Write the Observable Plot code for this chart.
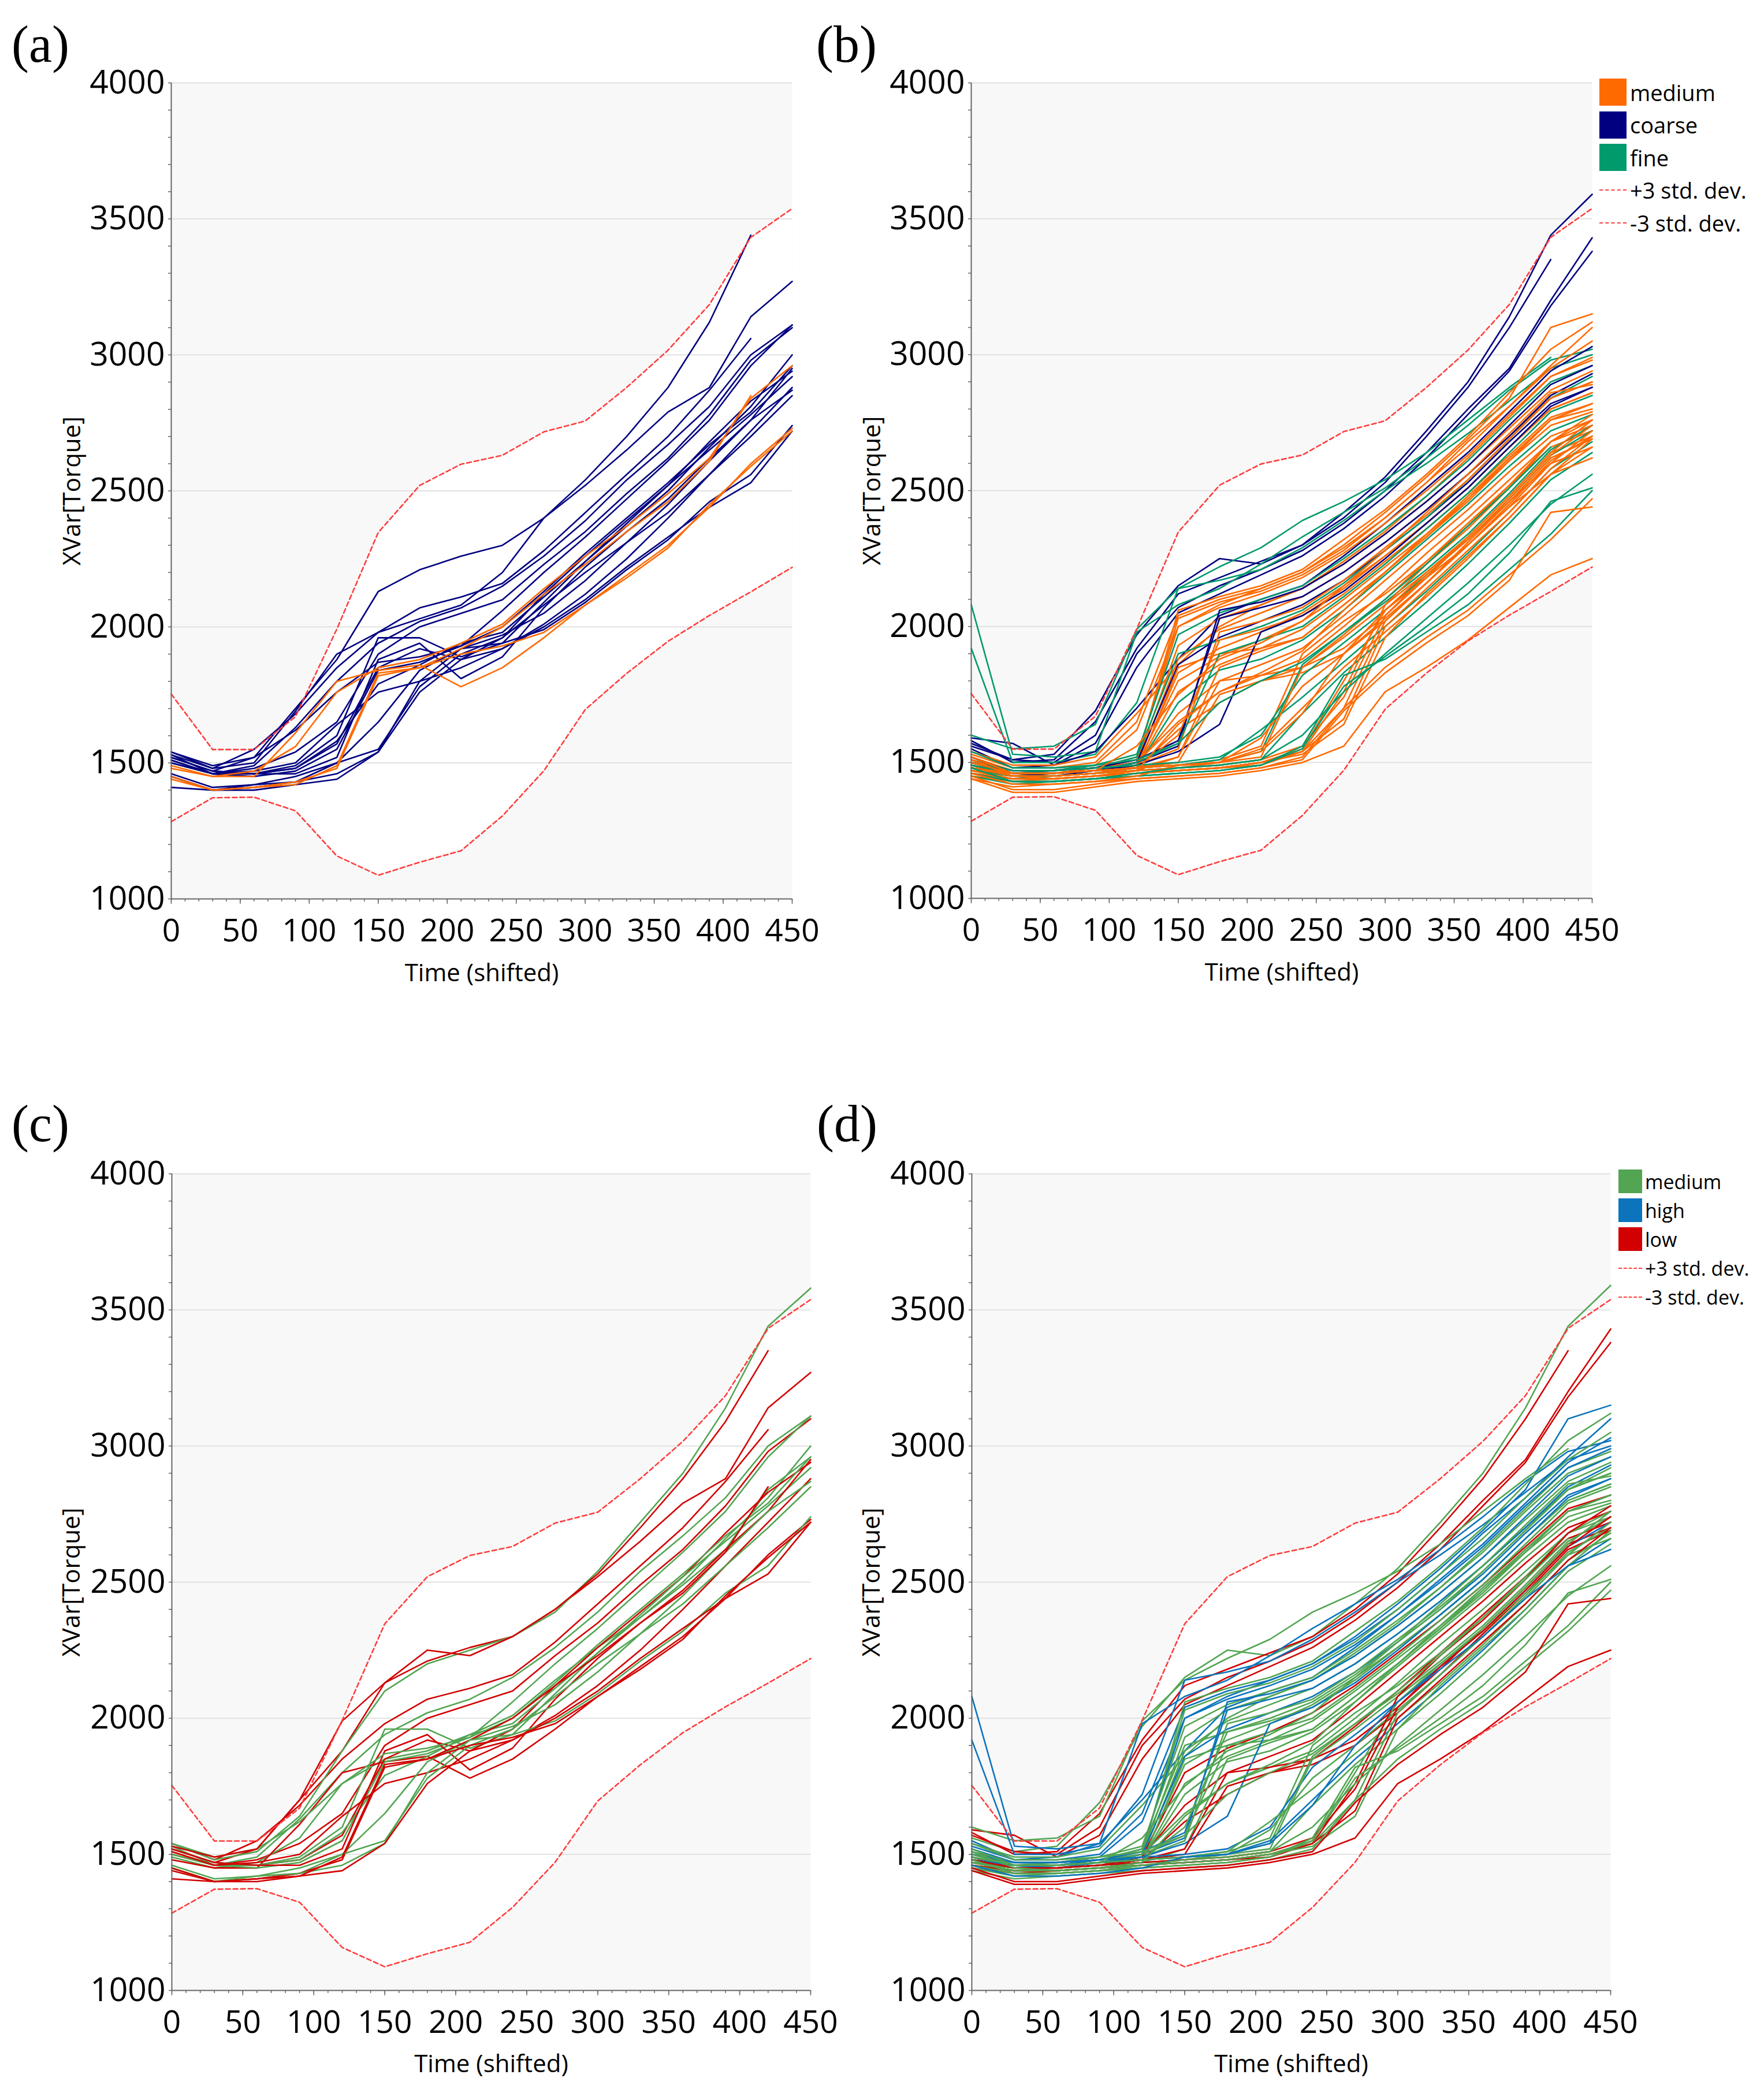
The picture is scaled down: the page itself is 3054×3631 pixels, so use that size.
<!DOCTYPE html>
<html><head><meta charset="utf-8">
<script src="https://cdn.jsdelivr.net/npm/d3@7"></script>
<script src="https://cdn.jsdelivr.net/npm/@observablehq/plot@0.6"></script>
<style>
html,body{margin:0;padding:0;background:#fff;}
#root{position:relative;width:3054px;height:3631px;background:#fff;overflow:hidden;font-family:"Open Sans",sans-serif;}
.panel{position:absolute;}
.plabel{position:absolute;font-family:"Liberation Serif","Times New Roman",serif;font-size:90px;line-height:90px;color:#000;}
.legend{position:absolute;font-family:"Open Sans",sans-serif;color:#000;}
.legend .row{position:absolute;left:0;display:flex;align-items:center;white-space:nowrap;}
.legend .sw{display:inline-block;flex:none;}
</style></head><body><div id="root"></div>
<script>
// ---------- DATA ----------
const times = [0,30,60,90,120,150,180,210,240,270,300,330,360,390,420,450];
const upperStd = [1753,1549,1549,1670,1992,2347,2520,2598,2631,2717,2757,2880,3017,3185,3432,3538];
const lowerStd = [1284,1372,1374,1324,1158,1087,1135,1177,1305,1471,1696,1829,1947,2042,2129,2219];

// panels (a) and (c): individual runs
const seriesA = [
  [1530,1480,1500,1690,1900,1980,2030,2080,2200,2400,2540,2700,2880,3120,3440,null],
  [1520,1470,1520,1700,1880,2130,2210,2260,2300,2400,2520,2650,2790,2880,3140,3270],
  [1540,1480,1550,1680,1850,1980,2070,2110,2160,2280,2420,2560,2700,2870,3060,null],
  [1510,1460,1490,1630,1800,1940,2020,2070,2150,2260,2390,2540,2670,2810,3000,3110],
  [1500,1460,1480,1540,1650,1900,2000,2050,2100,2230,2350,2490,2620,2780,2980,3100],
  [1490,1450,1470,1560,1760,1850,1880,1940,2010,2140,2260,2370,2490,2620,2840,2960],
  [1480,1450,1450,1610,1800,1840,1860,1780,1850,1960,2080,2190,2300,2440,2600,2730],
  [1520,1470,1460,1490,1600,1960,1960,1890,1940,2090,2240,2370,2500,2660,2810,3000],
  [1510,1460,1460,1480,1570,1850,1920,1880,1960,2120,2260,2390,2520,2680,2830,2940],
  [1530,1460,1450,1470,1550,1840,1870,1930,2000,2130,2270,2400,2530,2670,2790,2960],
  [1500,1460,1460,1480,1580,1790,1860,1940,1980,2110,2240,2380,2520,2650,2780,2920],
  [1520,1470,1460,1460,1520,1880,1940,1810,1890,2070,2220,2350,2470,2620,2760,2950],
  [1510,1460,1470,1500,1640,1760,1800,1850,1920,2010,2120,2250,2400,2560,2720,2880],
  [1450,1400,1410,1430,1500,1650,1840,1920,1970,2050,2170,2310,2450,2610,2760,2870],
  [1440,1400,1410,1430,1480,1820,1850,1920,2000,2120,2230,2350,2460,2610,2850,null],
  [1450,1400,1420,1450,1500,1550,1780,1900,1960,2080,2200,2310,2420,2560,2700,2850],
  [1460,1410,1420,1430,1460,1540,1800,1920,1940,1990,2090,2210,2320,2460,2560,2740],
  [1410,1400,1400,1420,1440,1540,1760,1880,1920,2000,2100,2220,2330,2440,2530,2720],
  [1450,1400,1410,1420,1490,1830,1850,1900,1930,1980,2080,2180,2290,2450,2590,2720],
  [1540,1490,1520,1620,1760,1870,1890,1930,2060,2200,2330,2470,2610,2760,2960,3110]
];
const groupA = ["coarse","coarse","coarse","coarse","coarse","medium","medium","coarse","coarse","coarse",
  "coarse","coarse","coarse","coarse","medium","coarse","coarse","coarse","medium","coarse"];
const groupC = [null,"low","low","medium","low","medium","low","medium","low","medium",
  "medium","low","low","medium","low","medium","medium","low","low","medium"];
const seriesCExtra = [
  [1540,1480,1510,1640,1880,2100,2200,2250,2300,2390,2540,2720,2900,3140,3440,3580],
  [1530,1490,1520,1700,1990,2130,2250,2230,2300,2400,2530,2700,2880,3090,3350,null]
];
const groupCExtra = ["medium","low"];

// panels (b) and (d): individual runs
const seriesB = [
  [1560,1510,1530,1690,1970,2150,2250,2230,2300,2420,2550,2720,2900,3140,3440,3590],
  [1580,1500,1510,1650,1920,2120,2180,2240,2300,2400,2530,2700,2880,3100,3350,null],
  [1570,1510,1500,1600,1900,2070,2150,2210,2280,2380,2500,2640,2800,2950,3200,3430],
  [1590,1570,1490,1570,1850,2050,2120,2190,2260,2360,2480,2620,2780,2940,3180,3380],
  [1600,1550,1560,1640,1990,2140,2220,2290,2390,2460,2540,2640,2760,2880,2990,null],
  [2080,1530,1520,1540,1980,2080,2140,2230,2330,2420,2510,2620,2740,2870,2980,3020],
  [1920,1500,1500,1530,1720,2140,2170,2210,2290,2390,2500,2600,2710,2830,2950,3000],
  [1550,1480,1490,1540,1700,1880,2040,2100,2150,2260,2380,2510,2640,2790,2940,3030],
  [1540,1490,1490,1520,1680,1860,2000,2080,2140,2240,2350,2480,2620,2770,2920,2980],
  [1530,1480,1480,1500,1650,2040,2100,2140,2200,2290,2400,2530,2680,2810,2960,3100],
  [1520,1470,1470,1490,1620,2000,2080,2140,2200,2300,2420,2550,2690,2840,3100,3150],
  [1500,1460,1460,1480,1500,2060,2110,2150,2210,2320,2430,2560,2700,2860,3020,3120],
  [1490,1460,1470,1480,1510,2030,2090,2130,2190,2280,2400,2530,2660,2810,2950,3050],
  [1480,1450,1460,1480,1520,2000,2070,2120,2180,2270,2380,2500,2630,2780,2920,2990],
  [1510,1470,1470,1490,1530,1970,2050,2100,2150,2250,2360,2480,2610,2760,2900,2960],
  [1470,1450,1460,1470,1500,1930,2030,2080,2140,2230,2340,2460,2590,2730,2870,2940],
  [1500,1460,1460,1470,1490,1880,1990,2050,2110,2200,2310,2430,2560,2700,2840,2900],
  [1520,1460,1450,1470,1500,1860,1960,2020,2080,2170,2280,2400,2530,2680,2820,2880],
  [1490,1450,1450,1460,1480,1830,1920,1980,2050,2150,2260,2380,2510,2660,2800,2860],
  [1480,1450,1450,1460,1490,1800,1890,1950,2020,2120,2240,2360,2490,2630,2770,2820],
  [1500,1460,1460,1470,1480,1760,1860,1920,1990,2100,2220,2340,2470,2610,2740,2790],
  [1470,1440,1450,1460,1480,1720,1840,1880,1950,2060,2190,2320,2450,2590,2720,2780],
  [1490,1450,1450,1460,1490,1680,1800,1860,1920,2040,2170,2300,2430,2570,2700,2760],
  [1510,1460,1460,1470,1500,1650,1760,1820,1880,2000,2130,2270,2400,2540,2680,2740],
  [1480,1450,1450,1460,1480,1620,1720,1800,1850,1970,2100,2240,2380,2520,2660,2720],
  [1460,1440,1440,1450,1470,1850,1900,1920,1960,2080,2200,2330,2470,2620,2760,2800],
  [1500,1460,1470,1480,1520,1900,1950,2000,2060,2160,2280,2400,2540,2690,2840,2920],
  [1490,1460,1460,1470,1500,1560,2060,2090,2140,2230,2340,2460,2590,2740,2890,2960],
  [1500,1470,1470,1480,1510,1580,2030,2070,2110,2200,2310,2430,2560,2700,2850,2930],
  [1480,1460,1460,1470,1490,1550,1980,2020,2070,2170,2290,2410,2540,2690,2840,2900],
  [1470,1450,1450,1460,1480,1600,1950,1990,2040,2140,2260,2380,2510,2660,2800,2860],
  [1490,1460,1460,1470,1500,1570,1900,1950,2000,2110,2230,2360,2490,2640,2790,2850],
  [1460,1440,1440,1450,1470,1520,1850,1910,1960,2080,2200,2330,2460,2610,2760,2820],
  [1500,1460,1460,1470,1490,1540,1640,1980,2040,2130,2250,2380,2510,2660,2810,2880],
  [1480,1450,1450,1460,1480,1520,1800,1820,1850,1920,2040,2180,2330,2480,2640,2700],
  [1470,1450,1450,1460,1480,1500,1750,1800,1830,1900,2020,2160,2310,2460,2620,2690],
  [1490,1460,1460,1470,1480,1490,1510,1560,1900,2020,2120,2240,2370,2520,2680,2760],
  [1480,1460,1460,1470,1480,1490,1500,1540,1860,1980,2090,2210,2340,2490,2650,2740],
  [1500,1470,1470,1480,1490,1500,1520,1600,1820,1940,2060,2190,2320,2470,2630,2720],
  [1470,1450,1450,1460,1470,1480,1500,1590,1780,1900,2030,2160,2300,2450,2610,2700],
  [1490,1460,1460,1470,1480,1490,1510,1620,1740,1870,2000,2130,2270,2420,2580,2680],
  [1480,1460,1460,1470,1480,1490,1500,1550,1700,1850,1980,2110,2250,2400,2560,2660],
  [1500,1460,1460,1470,1480,1490,1500,1520,1850,1960,2080,2200,2320,2460,2600,2660],
  [1470,1450,1450,1460,1470,1480,1490,1510,1680,1830,1960,2090,2230,2380,2540,2640],
  [1470,1440,1440,1450,1460,1470,1480,1500,1550,1800,2060,2200,2330,2480,2640,2760],
  [1460,1440,1440,1450,1460,1470,1480,1500,1540,1760,2080,2230,2360,2510,2680,2780],
  [1480,1450,1450,1460,1470,1480,1490,1510,1560,1740,2040,2190,2320,2470,2630,2740],
  [1450,1430,1430,1440,1460,1470,1480,1500,1540,1700,2020,2160,2300,2440,2600,2720],
  [1460,1430,1440,1450,1460,1470,1480,1490,1540,1660,2000,2140,2280,2420,2580,2700],
  [1470,1440,1440,1450,1460,1470,1480,1500,1530,1640,1960,2120,2260,2400,2560,2690],
  [1450,1420,1430,1440,1450,1460,1470,1490,1550,1780,1890,2000,2120,2270,2460,2510],
  [1460,1430,1430,1440,1450,1460,1470,1490,1560,1820,1880,1980,2080,2210,2340,2500],
  [1440,1410,1420,1430,1440,1450,1460,1480,1520,1700,1850,1960,2060,2190,2320,2470],
  [1450,1400,1400,1420,1440,1450,1460,1480,1510,1690,1830,1940,2040,2170,2420,2440],
  [1440,1390,1390,1410,1430,1440,1450,1470,1500,1560,1760,1850,1950,2070,2190,2250],
  [1540,1480,1480,1490,1510,1570,1720,1800,1870,1980,2100,2230,2370,2510,2660,null],
  [1520,1460,1460,1470,1560,1750,1880,1940,2020,2150,2280,2420,2560,2710,2860,2890],
  [1510,1450,1440,1450,1470,1640,1760,1830,1910,2060,2200,2340,2480,2620,2760,2820],
  [1460,1420,1420,1430,1450,1490,1500,1540,1680,1900,2060,2180,2300,2440,2560,2620],
  [1480,1430,1430,1440,1460,1480,1490,1510,1600,1760,1900,2030,2160,2300,2450,2560]
];
const groupB = ["coarse","coarse","coarse","coarse","fine","fine","fine","coarse","medium","medium",
  "medium","medium","medium","medium","fine","medium","medium","coarse","medium","medium",
  "medium","fine","medium","medium","medium","medium","fine","coarse","coarse","medium",
  "medium","fine","medium","coarse","medium","medium","medium","fine","fine","medium",
  "fine","medium","medium","fine","medium","medium","medium","medium","medium","medium",
  "fine","fine","medium","medium","medium","fine","medium","medium","medium","fine"];
const groupD = ["medium","low","low","low","medium","high","high","high","medium","high",
  "high","medium","medium","high","medium","medium","medium","high","medium","low",
  "medium","medium","low","medium","low","medium","medium","high","high","medium",
  "medium","medium","medium","high","low","low","medium","medium","high","medium",
  "medium","high","medium","medium","medium","low","low","medium","low","medium",
  "medium","medium","medium","low","low","medium","medium","medium","high","medium"];

const sizeNames = ["medium","coarse","fine"];
const sizeColors = ["#FF6A00","#000080","#009A6C"];
const moistNames = ["medium","high","low"];
const moistColors = ["#52A552","#0B74BC","#D20000"];
const stdNames = ["+3 std. dev.","-3 std. dev."];

// ---------- DRAWING ----------
const root = document.getElementById("root");

function makePanel(o) {
  const rows = [];
  o.series.forEach((vals, i) => {
    const g = o.groups[i];
    if (g == null) return;
    vals.forEach((v, j) => { if (v != null) rows.push({id: i, t: times[j], v, g}); });
  });
  if (o.order) rows.sort((a, b) => o.order.indexOf(a.g) - o.order.indexOf(b.g) || a.id - b.id);
  const std = times.map((t, j) => ({t, up: upperStd[j], lo: lowerStd[j]}));
  const plot = Plot.plot({
    width: o.width, height: o.height,
    marginLeft: o.ml, marginRight: o.mr, marginTop: o.mt, marginBottom: o.mb,
    x: {domain: [0, 450]},
    y: {domain: [1000, 4000]},
    color: {domain: o.names, range: o.colors},
    style: {fontFamily: "'Open Sans', sans-serif", background: "transparent", overflow: "visible", color: "#000"},
    marks: [
      Plot.frame({fill: "#f8f8f8", stroke: null}),
      Plot.areaY(std, {x: "t", y1: "lo", y2: "up", fill: "#ffffff"}),
      Plot.ruleY(d3.range(1500, 4001, 500), {stroke: "#e1e1e1", strokeWidth: 2}),
      Plot.line(rows, {x: "t", y: "v", z: "id", stroke: "g", strokeWidth: 2.6, curve: "linear"}),
      Plot.line(std, {x: "t", y: "up", stroke: "#FF3D3D", strokeWidth: 2.6, strokeDasharray: "8,5"}),
      Plot.line(std, {x: "t", y: "lo", stroke: "#FF3D3D", strokeWidth: 2.6, strokeDasharray: "8,5"}),
      Plot.ruleX([0], {stroke: "#666", strokeWidth: 2}),
      Plot.ruleY([1000], {stroke: "#666", strokeWidth: 2}),
      Plot.axisY({ticks: d3.range(1000, 4001, 100), tickSize: 5, text: null, label: null, stroke: "#666", strokeWidth: 1.5}),
      Plot.axisY({ticks: d3.range(1000, 4001, 500), tickSize: 0, tickPadding: 11, fontSize: 57, label: null, tickFormat: d => String(d)}),
      Plot.axisX({ticks: d3.range(0, 451, 10), tickSize: 5, text: null, label: null, stroke: "#666", strokeWidth: 1.5}),
      Plot.axisX({ticks: d3.range(0, 451, 50), tickSize: 9, text: null, label: null, stroke: "#666", strokeWidth: 1.5}),
      Plot.axisX({ticks: d3.range(0, 451, 50), tickSize: 0, tickPadding: 34, fontSize: 55, label: null, tickFormat: d => String(d)}),
      Plot.text(["XVar[Torque]"], {text: d => d, frameAnchor: "left", dx: o.yLabelDx, rotate: -90, textAnchor: "middle", lineAnchor: "middle", fontSize: 42}),
      Plot.text(["Time (shifted)"], {text: d => d, frameAnchor: "bottom", dy: o.xLabelDy, textAnchor: "middle", lineAnchor: "middle", fontSize: 42})
    ]
  });
  const wrap = document.createElement("div");
  wrap.className = "panel";
  wrap.style.left = o.left + "px";
  wrap.style.top = o.top + "px";
  wrap.appendChild(plot);
  root.appendChild(wrap);
}

function addLabel(text, left, top) {
  const d = document.createElement("div");
  d.className = "plabel";
  d.textContent = text;
  d.style.left = left + "px";
  d.style.top = top + "px";
  root.appendChild(d);
}

function addLegend(o) {
  const lg = document.createElement("div");
  lg.className = "legend";
  lg.style.left = o.left + "px";
  lg.style.top = o.top + "px";
  lg.style.fontSize = o.fontSize + "px";
  const items = o.names.map((n, i) => ({n, c: o.colors[i], dash: false}))
    .concat(stdNames.map(n => ({n, c: "#FF3D3D", dash: true})));
  items.forEach((it, i) => {
    const r = document.createElement("div");
    r.className = "row";
    r.style.top = (i * o.step) + "px";
    r.style.height = o.sq + "px";
    const sw = document.createElement("span");
    sw.className = "sw";
    sw.style.width = o.sq + "px";
    if (it.dash) {
      sw.style.height = "0px";
      sw.style.borderTop = "2.6px dashed " + it.c;
    } else {
      sw.style.height = o.sq + "px";
      sw.style.background = it.c;
    }
    const tx = document.createElement("span");
    tx.textContent = it.n;
    tx.style.marginLeft = o.gap + "px";
    tx.style.lineHeight = "1";
    r.appendChild(sw);
    r.appendChild(tx);
    lg.appendChild(r);
  });
  root.appendChild(lg);
}

// (a)
makePanel({series: seriesA, groups: groupA, names: sizeNames, colors: sizeColors, order: ["coarse","medium","fine"],
  left: 0, top: 0, width: 1500, height: 1800, ml: 296, mr: 129, mt: 143, mb: 244, yLabelDx: -171, xLabelDy: 129});
// (b)
makePanel({series: seriesB, groups: groupB, names: sizeNames, colors: sizeColors,
  left: 1400, top: 0, width: 1450, height: 1800, ml: 281, mr: 94, mt: 143, mb: 245, yLabelDx: -171, xLabelDy: 129});
// (c)
makePanel({series: seriesA.concat(seriesCExtra), groups: groupC.concat(groupCExtra), names: moistNames, colors: moistColors,
  left: 0, top: 1880, width: 1500, height: 1800, ml: 297, mr: 97, mt: 152, mb: 234, yLabelDx: -173, xLabelDy: 128});
// (d)
makePanel({series: seriesB, groups: groupD, names: moistNames, colors: moistColors,
  left: 1400, top: 1880, width: 1450, height: 1800, ml: 282, mr: 62, mt: 152, mb: 234, yLabelDx: -173, xLabelDy: 128});

addLabel("(a)", 20, 32);
addLabel("(b)", 1413, 32);
addLabel("(c)", 20, 1901);
addLabel("(d)", 1414, 1901);

addLegend({names: sizeNames, colors: sizeColors, left: 2769, top: 136, sq: 47, step: 56.5, gap: 6, fontSize: 38});
addLegend({names: moistNames, colors: moistColors, left: 2802, top: 2025, sq: 41, step: 50, gap: 5, fontSize: 34});
</script></body></html>
